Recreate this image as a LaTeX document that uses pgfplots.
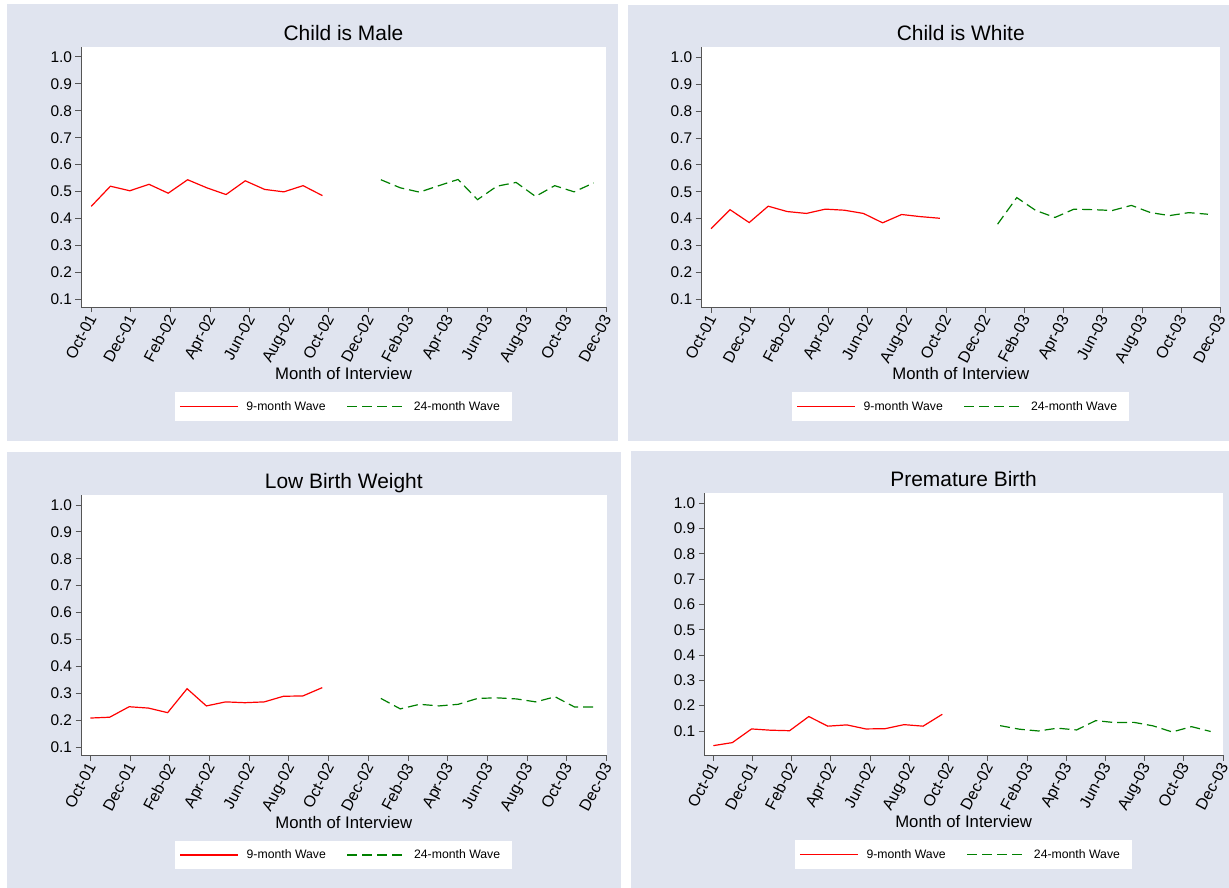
\documentclass[border=0pt]{standalone}
\usepackage{fontspec}
\setmainfont{Liberation Sans}
\usepackage{pgfplots}
\pgfplotsset{compat=1.18}
\definecolor{panelbg}{RGB}{224,228,239}
\definecolor{axgray}{RGB}{85,85,85}
\definecolor{wred}{RGB}{255,0,0}
\definecolor{wgreen}{RGB}{0,128,0}

\pgfplotsset{
  panel/.style={
    scale only axis,
    anchor=south west,
    axis x line*=bottom, axis y line*=left,
    axis line style={axgray, line width=0.9bp},
    every tick/.style={axgray, line width=0.9bp},
    major tick length=5.5bp,
    tick align=outside,
    axis background/.style={fill=white},
    xmax=26,
    xtick={0,2,4,6,8,10,12,14,16,18,20,22,24,26},
    xticklabels={Oct-01,Dec-01,Feb-02,Apr-02,Jun-02,Aug-02,Oct-02,Dec-02,Feb-03,Apr-03,Jun-03,Aug-03,Oct-03,Dec-03},
    ytick={0.1,0.2,0.3,0.4,0.5,0.6,0.7,0.8,0.9,1.0},
    yticklabel style={font=\fontsize{15.5}{18}\selectfont, /pgf/number format/.cd, fixed, fixed zerofill, precision=1, assume math mode=true},
    xticklabel style={font=\fontsize{16}{18}\selectfont, yshift=1bp, xshift=-4.5bp, rotate=62, anchor=north east, inner sep=1bp},
    title style={font=\fontsize{21}{24}\selectfont, at={(0.5,1)}, anchor=base, yshift=1bp},
    xlabel style={font=\fontsize{16.8}{19}\selectfont, at={(0.5,0)}, anchor=base, yshift=-72.5bp},
    xlabel={Month of Interview},
    legend columns=2,
    legend style={at={(0.5,0)}, anchor=north, yshift=-85bp, draw=none, fill=white,
      font=\fontsize{12.3}{14}\selectfont, inner xsep=4bp, inner ysep=2.5bp,
      nodes={inner xsep=8bp, inner ysep=6.5bp},
      /tikz/every even column/.append style={column sep=13bp}},
    legend image code/.code={\draw[#1] (0bp,0bp) -- (58bp,0bp);},
  },
}

\begin{document}
\begin{tikzpicture}
\fill[white] (0,0) rectangle (1229bp,888bp);
\fill[panelbg] (7.3bp,447.3bp) rectangle (618.3bp,883.7bp);
\fill[panelbg] (628.3bp,447.3bp) rectangle (1229bp,883bp);
\fill[panelbg] (7bp,0bp) rectangle (621bp,436.3bp);
\fill[panelbg] (631bp,0bp) rectangle (1229bp,437bp);

% Panel 1
\begin{axis}[panel, at={(81bp,581bp)}, width=525bp, height=260bp,
  xmin=-0.515, ymin=0.0714, ymax=1.037, title={Child is Male}]
\addplot[color=wred, line width=1.2bp] coordinates {(0,0.445)(0.97,0.520)(1.95,0.503)(2.92,0.527)(3.89,0.494)(4.87,0.544)(5.84,0.514)(6.81,0.489)(7.78,0.540)(8.76,0.508)(9.73,0.499)(10.70,0.522)(11.68,0.485)};
\addplot[color=wgreen, line width=1.2bp, dash pattern=on 10bp off 5bp] coordinates {(14.63,0.544)(15.61,0.514)(16.58,0.498)(17.56,0.522)(18.53,0.545)(19.51,0.470)(20.49,0.520)(21.46,0.534)(22.44,0.482)(23.41,0.522)(24.39,0.499)(25.37,0.532)};
\legend{9-month Wave, 24-month Wave}
\end{axis}

% Panel 2
\begin{axis}[panel, at={(701.2bp,580.7bp)}, width=519.1bp, height=260bp,
  xmin=-0.50, ymin=0.069, ymax=1.0385, title={Child is White}]
\addplot[color=wred, line width=1.2bp] coordinates {(0,0.362)(0.97,0.433)(1.95,0.385)(2.92,0.446)(3.89,0.426)(4.87,0.419)(5.84,0.435)(6.81,0.431)(7.78,0.419)(8.76,0.384)(9.73,0.415)(10.70,0.407)(11.68,0.401)};
\addplot[color=wgreen, line width=1.2bp, dash pattern=on 10bp off 5bp] coordinates {(14.63,0.379)(15.61,0.478)(16.58,0.430)(17.56,0.404)(18.53,0.435)(19.51,0.433)(20.49,0.430)(21.46,0.449)(22.44,0.422)(23.41,0.411)(24.39,0.422)(25.37,0.416)};
\legend{9-month Wave, 24-month Wave}
\end{axis}

% Panel 3
\begin{axis}[panel, at={(81.1bp,132.3bp)}, width=525.4bp, height=260.7bp,
  xmin=-0.47, ymin=0.068, ymax=1.037, title={Low Birth Weight}]
\addplot[color=wred, line width=1.2bp] coordinates {(0,0.208)(0.97,0.211)(1.95,0.250)(2.92,0.245)(3.89,0.228)(4.87,0.317)(5.84,0.253)(6.81,0.268)(7.78,0.265)(8.76,0.268)(9.73,0.289)(10.70,0.290)(11.68,0.321)};
\addplot[color=wgreen, line width=1.2bp, dash pattern=on 10bp off 5bp] coordinates {(14.63,0.281)(15.61,0.242)(16.58,0.259)(17.56,0.253)(18.53,0.259)(19.51,0.281)(20.49,0.283)(21.46,0.279)(22.44,0.268)(23.41,0.287)(24.39,0.249)(25.37,0.249)};
\legend{9-month Wave, 24-month Wave}
\end{axis}

% Panel 4
\begin{axis}[panel, at={(704.3bp,133bp)}, width=518.7bp, height=261.7bp,
  xmin=-0.46, ymin=0.005, ymax=1.0395, title={Premature Birth}]
\addplot[color=wred, line width=1.2bp] coordinates {(0,0.042)(0.97,0.054)(1.95,0.108)(2.92,0.103)(3.89,0.101)(4.87,0.157)(5.84,0.119)(6.81,0.124)(7.78,0.108)(8.76,0.109)(9.73,0.125)(10.70,0.119)(11.68,0.166)};
\addplot[color=wgreen, line width=1.2bp, dash pattern=on 10bp off 5bp] coordinates {(14.63,0.121)(15.61,0.107)(16.58,0.100)(17.56,0.111)(18.53,0.104)(19.51,0.141)(20.49,0.133)(21.46,0.134)(22.44,0.120)(23.41,0.096)(24.39,0.117)(25.37,0.098)};
\legend{9-month Wave, 24-month Wave}
\end{axis}

\pgfresetboundingbox
\path[use as bounding box] (0,0) rectangle (1229bp,888bp);
\end{tikzpicture}
\end{document}
